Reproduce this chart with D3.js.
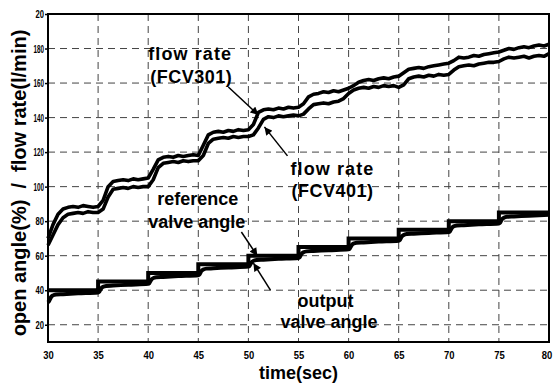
<!DOCTYPE html>
<html>
<head>
<meta charset="utf-8">
<script src="https://cdn.jsdelivr.net/npm/d3@7"></script>
<style>
    body { margin: 0; background: #fff; }
    text { font-family: "Liberation Sans", Arial, sans-serif; font-weight: bold; }
</style>
</head>
<body>
<div id="canvas"></div>
<script>
"use strict"

let svgWidth = 554
let svgHeight = 383

let margin = { top: 14, right: 5, bottom: 41, left: 48 }

// time axis (sec)
let xTicks = [30, 35, 40, 45, 50, 55, 60, 65, 70, 75, 80]
let yTicks = [20, 40, 60, 80, 100, 120, 140, 160, 180, 200]
let yTickLabels = ["20", "40", "60", "80", "100", "120", "140", "160", "180", "20"]

// sample times for the flow curves, every 0.5 s
let flowTime = [
    30, 30.5, 31, 31.5, 32, 32.5, 33, 33.5, 34, 34.5,
    35, 35.5, 36, 36.5, 37, 37.5, 38, 38.5, 39, 39.5,
    40, 40.5, 41, 41.5, 42, 42.5, 43, 43.5, 44, 44.5,
    45, 45.5, 46, 46.5, 47, 47.5, 48, 48.5, 49, 49.5,
    50, 50.5, 51, 51.5, 52, 52.5, 53, 53.5, 54, 54.5,
    55, 55.5, 56, 56.5, 57, 57.5, 58, 58.5, 59, 59.5,
    60, 60.5, 61, 61.5, 62, 62.5, 63, 63.5, 64, 64.5,
    65, 65.5, 66, 66.5, 67, 67.5, 68, 68.5, 69, 69.5,
    70, 70.5, 71, 71.5, 72, 72.5, 73, 73.5, 74, 74.5,
    75, 75.5, 76, 76.5, 77, 77.5, 78, 78.5, 79, 79.5, 80
]

// flow rate FCV301 (upper curve)
let flowFCV301 = [
    70, 78, 84, 87, 88, 88.5, 88, 89, 88.5, 88,
    88.5, 92, 100, 103, 103.5, 104, 103.5, 104.5, 104, 104.5,
    105, 110, 115.5, 117, 117.5, 117, 118, 117.5, 118, 118.5,
    118, 124, 130, 131.5, 132, 131.5, 132.5, 132, 133, 132.5,
    133, 136, 143, 144.5, 145, 144.5, 145.5, 145, 146, 145.5,
    146, 148, 152, 153.5, 154, 155, 154.5, 155.5, 155, 156,
    157, 158.5, 160.5, 161.5, 162, 161.5, 162.5, 163, 162.5, 163.5,
    164, 166, 168, 168.5, 169, 168.5, 169.5, 170, 170.5, 171,
    171.5, 173, 175, 174.5, 175, 176, 175.5, 176.5, 177, 177.5,
    178, 179, 180, 179.5, 180.5, 181, 180.5, 181.5, 182, 181.5, 182.5
]

// flow rate FCV401 (lower curve)
let flowFCV401 = [
    66, 72, 78, 82, 84, 84.5, 85, 84.5, 85.5, 85,
    85, 87, 94, 98.5, 99, 99.5, 99, 100, 99.5, 100,
    100, 104, 111, 113.5, 114, 114.5, 114, 115, 114.5, 115,
    115, 118, 125, 127.5, 128, 128.5, 128, 129, 128.5, 129,
    129, 130, 134, 139, 140.5, 140, 141, 140.5, 141, 141.5,
    141, 142, 145, 147.5, 148, 148.5, 148, 149, 149.5, 151,
    154, 156, 157, 157.5, 157, 158, 157.5, 158.5, 158, 158.5,
    157.5, 159, 162.5, 163.5, 164, 163.5, 164.5, 164, 165, 164.5,
    165, 167.5, 169.5, 170, 170.5, 170, 171, 171.5, 172, 172,
    172.5, 174, 175, 174.5, 175, 175.5, 174.5, 175.5, 176, 175.5, 177
]

// reference valve angle, held from each time until the next
let refTime = [30, 35, 40, 45, 50, 55, 60, 65, 70, 75, 80]
let refAngle = [40, 45, 50, 55, 60, 65, 70, 75, 80, 85, 85]

// output valve angle (lags the reference after each step)
let outTime = [
    30, 30.1, 30.2, 30.3, 30.5, 30.8, 31.5, 33,
    35, 35.1, 35.2, 35.3, 35.5, 35.8, 36.5, 38,
    40, 40.1, 40.2, 40.3, 40.5, 40.8, 41.5, 43,
    45, 45.1, 45.2, 45.3, 45.5, 45.8, 46.5, 48,
    50, 50.1, 50.2, 50.3, 50.5, 50.8, 51.5, 53,
    55, 55.1, 55.2, 55.3, 55.5, 55.8, 56.5, 58,
    60, 60.1, 60.2, 60.3, 60.5, 60.8, 61.5, 63,
    65, 65.1, 65.2, 65.3, 65.5, 65.8, 66.5, 68,
    70, 70.1, 70.2, 70.3, 70.5, 70.8, 71.5, 73,
    75, 75.1, 75.2, 75.3, 75.5, 75.8, 76.5, 78, 80
]
let outAngle = [
    33, 33.7, 34.8, 36, 37, 37.5, 37.7, 38.2,
    38.7, 39, 40, 41, 42, 42.5, 42.7, 43.2,
    43.7, 44, 45, 46, 47, 47.5, 47.7, 48.2,
    48.7, 49, 50, 51, 52, 52.5, 52.7, 53.2,
    53.7, 54, 55, 56, 57, 57.5, 57.7, 58.2,
    58.7, 59, 60, 61, 62, 62.5, 62.7, 63.2,
    63.7, 64, 65, 66, 67, 67.5, 67.7, 68.2,
    68.7, 69, 70, 71, 72, 72.5, 72.7, 73.2,
    73.7, 74, 75, 76, 77, 77.5, 77.7, 78.2,
    78.7, 79, 80, 81, 82, 82.5, 82.7, 83.2, 83.7
]

// annotations: text lines and arrows, in data units (time, value)
let noteText = ["flow rate", "(FCV301)", "flow rate", "(FCV401)", "reference", "valve angle", "output", "valve angle"]
let noteT = [40, 40.2, 54.2, 54.3, 40.9, 40, 54.9, 53.2]
let noteV = [173.4, 160, 106.8, 94, 89.4, 76, 30.3, 18.1]
let noteSpacing = [1.1, 0.5, 1.1, 0.5, 0, 0, 0, 0]

let arrowFrom = [[48, 157.7], [53.9, 117.8], [49.3, 73.7], [52.2, 40.1]]
let arrowTo = [[51, 141.5], [51.6, 134.6], [50.9, 59.8], [50.5, 55.7]]

let width = svgWidth - margin.left - margin.right
let height = svgHeight - margin.top - margin.bottom

let svg = d3.select("#canvas")
    .append("svg")
    .attr("width", svgWidth)
    .attr("height", svgHeight)

svg.append("defs").append("marker")
    .attr("id", "head")
    .attr("viewBox", "0 0 10 10")
    .attr("refX", 10)
    .attr("refY", 5)
    .attr("markerWidth", 9)
    .attr("markerHeight", 8)
    .attr("markerUnits", "userSpaceOnUse")
    .attr("orient", "auto")
    .append("path")
    .attr("d", "M0,0 L10,5 L0,10 Z")
    .attr("fill", "#000")

let xScale = d3.scaleLinear().domain([30, 80]).range([0, width])
let yScale = d3.scaleLinear().domain([10, 200]).range([height, 0])

let g = svg.append("g")
    .attr("transform", `translate(${margin.left},${margin.top})`)

// dashed grid
g.selectAll("line.vgrid")
    .data(xTicks.slice(1, -1))
    .join("line")
    .attr("class", "vgrid")
    .attr("x1", d => xScale(d)).attr("x2", d => xScale(d))
    .attr("y1", 0).attr("y2", height)
    .attr("stroke", "#444").attr("stroke-width", 1)
    .attr("stroke-dasharray", "7,5")

g.selectAll("line.hgrid")
    .data(yTicks.slice(0, -1))
    .join("line")
    .attr("class", "hgrid")
    .attr("x1", 0).attr("x2", width)
    .attr("y1", d => yScale(d)).attr("y2", d => yScale(d))
    .attr("stroke", "#444").attr("stroke-width", 1)
    .attr("stroke-dasharray", "7,5")

// curves
let flowLine = d3.line()
    .x((d, i) => xScale(flowTime[i]))
    .y(d => yScale(d))

g.append("path")
    .attr("d", flowLine(flowFCV301))
    .attr("fill", "none").attr("stroke", "#000").attr("stroke-width", 3.6)
    .attr("stroke-linejoin", "round")

g.append("path")
    .attr("d", flowLine(flowFCV401))
    .attr("fill", "none").attr("stroke", "#000").attr("stroke-width", 3.6)
    .attr("stroke-linejoin", "round")

let refLine = d3.line()
    .x((d, i) => xScale(refTime[i]))
    .y(d => yScale(d))
    .curve(d3.curveStepAfter)

g.append("path")
    .attr("d", refLine(refAngle))
    .attr("fill", "none").attr("stroke", "#000").attr("stroke-width", 4)

let outLine = d3.line()
    .x((d, i) => xScale(outTime[i]))
    .y(d => yScale(d))
    .curve(d3.curveMonotoneX)

g.append("path")
    .attr("d", outLine(outAngle))
    .attr("fill", "none").attr("stroke", "#000").attr("stroke-width", 4)

// frame
g.append("rect")
    .attr("width", width).attr("height", height)
    .attr("fill", "none").attr("stroke", "#000").attr("stroke-width", 2)

// axes
let xAxis = d3.axisBottom(xScale).tickValues(xTicks).tickSize(0).tickPadding(9)
let xg = g.append("g").attr("transform", `translate(0,${height})`).call(xAxis)
xg.select(".domain").remove()
xg.selectAll("text")
    .style("font-size", "11.5px")
    .attr("fill", "#000")
    .attr("textLength", 10.5)
    .attr("lengthAdjust", "spacingAndGlyphs")
    .attr("dx", d => d === 80 ? -2.5 : 0)

let yAxis = d3.axisLeft(yScale).tickValues(yTicks).tickSize(3).tickPadding(1)
    .tickFormat((d, i) => yTickLabels[i])
let yg = g.append("g").call(yAxis)
yg.select(".domain").remove()
yg.selectAll("line").attr("stroke", "#000").attr("stroke-width", 1.5)
yg.selectAll("text")
    .style("font-size", "11.5px")
    .attr("fill", "#000")
    .attr("textLength", (d, i) => yTickLabels[i].length > 2 ? 10.5 : 8.5)
    .attr("lengthAdjust", "spacingAndGlyphs")

// annotations
g.selectAll("text.note")
    .data(noteText)
    .join("text")
    .attr("class", "note")
    .attr("x", (d, i) => xScale(noteT[i]))
    .attr("y", (d, i) => yScale(noteV[i]))
    .style("font-size", "18px")
    .style("letter-spacing", (d, i) => noteSpacing[i] + "px")
    .text(d => d)

g.selectAll("line.arrow")
    .data(arrowFrom)
    .join("line")
    .attr("class", "arrow")
    .attr("x1", d => xScale(d[0])).attr("y1", d => yScale(d[1]))
    .attr("x2", (d, i) => xScale(arrowTo[i][0])).attr("y2", (d, i) => yScale(arrowTo[i][1]))
    .attr("stroke", "#000").attr("stroke-width", 1.5)
    .attr("marker-end", "url(#head)")

// axis titles
svg.append("text")
    .attr("x", margin.left + width / 2)
    .attr("y", 379)
    .attr("text-anchor", "middle")
    .style("font-size", "18px")
    .text("time(sec)")

svg.append("text")
    .attr("transform", "translate(26,183) rotate(-90)")
    .attr("text-anchor", "middle")
    .style("font-size", "20px")
    .style("white-space", "pre")
    .text("open angle(%)  /  flow rate(l/min)")
</script>
</body>
</html>
